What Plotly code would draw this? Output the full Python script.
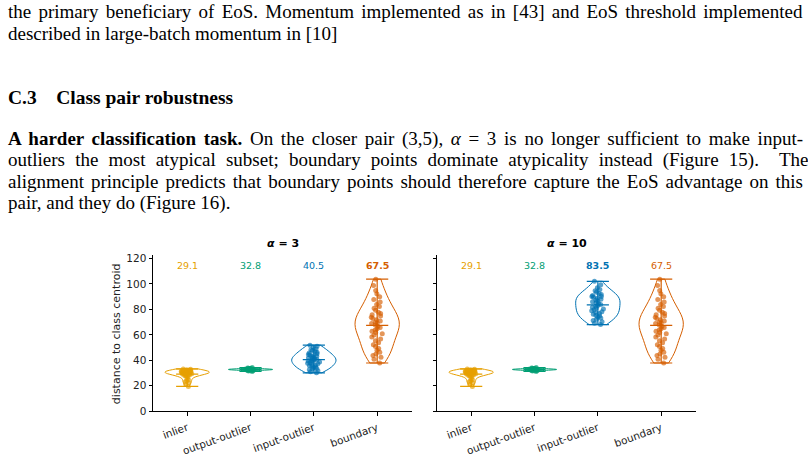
import numpy as np
import plotly.graph_objects as go

W, H = 808, 461

categories = ["inlier", "output-outlier", "input-outlier", "boundary"]
colors = ["#E69F00", "#009E73", "#0072B2", "#D55E00"]

inlier = [33.2, 32.9, 32.6, 32.4, 32.1, 32.0, 31.9, 31.7, 31.6, 31.5,
          31.3, 31.2, 31.1, 31.0, 30.8, 30.7, 30.6, 30.5, 30.3, 30.2,
          30.1, 30.0, 29.8, 29.6, 29.4, 29.2, 29.0, 28.8, 28.5, 28.2,
          27.9, 27.5, 27.0, 25.4, 24.8, 24.0, 23.2, 22.3, 21.0, 19.5]
output_outlier = [31.3, 31.6, 31.8, 32.0, 32.2, 32.3, 32.4, 32.4, 32.5, 32.5,
                  32.6, 32.6, 32.7, 32.7, 32.8, 32.8, 32.8, 32.9, 32.9, 33.0,
                  33.0, 33.1, 33.1, 33.2, 33.2, 33.3, 33.4, 33.6, 33.8, 34.0, 34.3]
input_outlier_a3 = [30.2, 31.0, 31.8, 32.5, 33.1, 33.7, 34.2, 34.8, 35.3, 35.8,
                    36.3, 36.8, 37.2, 37.7, 38.1, 38.6, 39.0, 39.4, 39.8, 40.2,
                    40.6, 41.0, 41.4, 41.8, 42.2, 42.7, 43.1, 43.6, 44.1, 44.6,
                    45.1, 45.7, 46.3, 46.9, 47.6, 48.3, 49.1, 50.0, 51.0, 51.9]
input_outlier_a10 = [68.0, 69.0, 70.2, 71.3, 72.3, 73.2, 74.0, 74.7, 75.4, 76.1,
                     76.8, 77.5, 78.2, 78.9, 79.6, 80.3, 81.0, 81.7, 82.4, 83.1,
                     83.8, 84.5, 85.2, 85.9, 86.6, 87.3, 88.0, 88.7, 89.4, 90.1,
                     90.0, 90.8, 91.6, 92.5, 93.5, 94.5, 95.6, 97.0, 99.3, 102.0]
boundary = [37.9, 40.8, 42.3, 43.8, 45.0, 46.3, 47.8, 49.3, 50.8, 52.3,
            53.8, 55.3, 56.8, 58.3, 59.8, 60.8, 61.8, 62.8, 63.8, 64.8,
            65.8, 66.8, 67.8, 68.8, 69.3, 69.8, 70.8, 71.8, 72.8, 73.8,
            74.8, 75.8, 76.8, 77.8, 79.3, 80.8, 82.3, 83.8, 85.8, 87.8,
            89.8, 92.3, 94.8, 98.8, 103.7]

panel_titles = ["<b><i>α</i> = 3</b>", "<b><i>α</i> = 10</b>"]
mean_labels_a3 = ["29.1", "32.8", "40.5", "67.5"]
mean_labels_a10 = ["29.1", "32.8", "83.5", "67.5"]
bold_a3 = [False, False, False, True]
bold_a10 = [False, False, True, False]

yticks = [0, 20, 40, 60, 80, 100, 120]

page_lines = [
    "the primary beneficiary of EoS. Momentum implemented as in [43] and EoS threshold implemented",
    "described in large-batch momentum in [10]",
]
heading = "<b>C.3\u00a0\u00a0\u00a0\u00a0Class pair robustness</b>"
para_lines = [
    "<b>A harder classification task.</b> On the closer pair (3,5), <i>α</i> = 3 is no longer sufficient to make input-",
    "outliers the most atypical subset; boundary points dominate atypicality instead (Figure 15).  The",
    "alignment principle predicts that boundary points should therefore capture the EoS advantage on this",
    "pair, and they do (Figure 16).",
]
justified_starts = ["the primary beneficiary", "A harder classification",
                    "outliers the most", "alignment principle"]

panels = [
    dict(data=[inlier, output_outlier, input_outlier_a3, boundary], labels=mean_labels_a3, bold=bold_a3,
         xa="x", ya="y", title=panel_titles[0], dom=(153, 412)),
    dict(data=[inlier, output_outlier, input_outlier_a10, boundary], labels=mean_labels_a10, bold=bold_a10,
         xa="x2", ya="y2", title=panel_titles[1], dom=(437, 696)),
]


def px_x(p):
    return p / W


def px_y(p):
    return 1 - p / H


fig = go.Figure()
annotations = []
half = 0.175
for pan in panels:
    for i, (vals, col) in enumerate(zip(pan["data"], colors)):
        v = np.array(vals)
        bw = v.std(ddof=1) * len(v) ** (-0.2)  # Scott's rule, as matplotlib's violinplot
        fig.add_trace(go.Violin(
            x0=i, y=v, xaxis=pan["xa"], yaxis=pan["ya"], width=0.7, scalemode="width",
            spanmode="hard", bandwidth=bw, line=dict(color=col, width=1), fillcolor="rgba(0,0,0,0)",
            points="all", pointpos=0, jitter=0.3,
            marker=dict(color=col, size=5, opacity=0.65, line=dict(width=0)),
            box_visible=False, meanline_visible=False, showlegend=False, hoverinfo="y"))
        mn, mx, me = v.min(), v.max(), v.mean()
        fig.add_trace(go.Scatter(
            x=[i - half, i + half, None, i - half, i + half, None, i, i, None, i - half, i + half],
            y=[mn, mn, None, mx, mx, None, mn, mx, None, me, me],
            mode="lines", line=dict(color=col, width=1.2), xaxis=pan["xa"], yaxis=pan["ya"],
            showlegend=False, hoverinfo="skip"))
        txt = pan["labels"][i]
        if pan["bold"][i]:
            txt = "<b>" + txt + "</b>"
        annotations.append(dict(x=i, y=114.5, xref=pan["xa"], yref=pan["ya"], text=txt, showarrow=False,
                                font=dict(family="DejaVu Sans", size=9.5, color=col),
                                xanchor="center", yanchor="middle"))
    cx = (pan["dom"][0] + pan["dom"][1]) / 2
    annotations.append(dict(x=px_x(cx), y=px_y(246), xref="paper", yref="paper", text=pan["title"],
                            showarrow=False, font=dict(family="DejaVu Sans", size=11, color="black"),
                            xanchor="center", yanchor="middle"))

annotations.append(dict(x=px_x(116), y=px_y(337), xref="paper", yref="paper",
                        text="distance to class centroid", textangle=-90, showarrow=False,
                        font=dict(family="DejaVu Sans", size=11, color="#222"),
                        xanchor="center", yanchor="middle"))

serif = "Liberation Serif"
text_y = [10, 32]
for t, yy in zip(page_lines, text_y):
    annotations.append(dict(x=px_x(6), y=px_y(yy), xref="paper", yref="paper", text=t, showarrow=False,
                            font=dict(family=serif, size=19, color="black"), xanchor="left",
                            yanchor="middle", align="left"))
annotations.append(dict(x=px_x(6), y=px_y(97), xref="paper", yref="paper", text=heading, showarrow=False,
                        font=dict(family=serif, size=19.5, color="black"), xanchor="left",
                        yanchor="middle", align="left"))
para_y = [139, 161, 183, 205]
for t, yy in zip(para_lines, para_y):
    annotations.append(dict(x=px_x(6), y=px_y(yy), xref="paper", yref="paper", text=t, showarrow=False,
                            font=dict(family=serif, size=19, color="black"), xanchor="left",
                            yanchor="middle", align="left"))

axis_common = dict(showline=True, linecolor="black", linewidth=1, ticks="outside", ticklen=3.5,
                   tickwidth=0.8, tickcolor="black", showgrid=False, zeroline=False,
                   tickfont=dict(family="DejaVu Sans", size=10.5, color="#222"))
ydom = [px_y(416.5), px_y(257)]
fig.update_layout(
    width=W, height=H, margin=dict(l=0, r=0, t=0, b=0), paper_bgcolor="white", plot_bgcolor="white",
    violinmode="overlay", showlegend=False,
    xaxis=dict(domain=[px_x(153), px_x(412)], range=[-0.54, 3.55], type="linear", anchor="y",
               tickvals=list(range(4)), ticktext=categories, tickangle=-20, ticklabelstandoff=2,
               **axis_common),
    yaxis=dict(domain=ydom, range=[0, 123], anchor="x", tickvals=yticks, **axis_common),
    xaxis2=dict(domain=[px_x(437), px_x(696)], range=[-0.54, 3.55], type="linear", anchor="y2",
                tickvals=list(range(4)), ticktext=categories, tickangle=-20, ticklabelstandoff=2,
                **axis_common),
    yaxis2=dict(domain=ydom, range=[0, 123], anchor="x2", tickvals=yticks, showticklabels=False,
                **axis_common),
    annotations=annotations,
)

justify_js = """
var gd = document.getElementById('{plot_id}');
var keys = %s;
var L = 6, R = 801;
gd.querySelectorAll('text.annotation-text').forEach(function(t) {
  var s = t.textContent;
  if (!keys.some(function(k) { return s.indexOf(k) === 0; })) return;
  var n = (s.match(/ +/g) || []).length;
  var w = t.getBBox().width;
  var extra = (R - L) - w;
  if (n > 0 && extra > 0) { t.style.wordSpacing = (extra / n) + 'px'; }
});
""" % (str(justified_starts).replace("'", '"'))

fig.write_html("out.html", post_script=justify_js)
